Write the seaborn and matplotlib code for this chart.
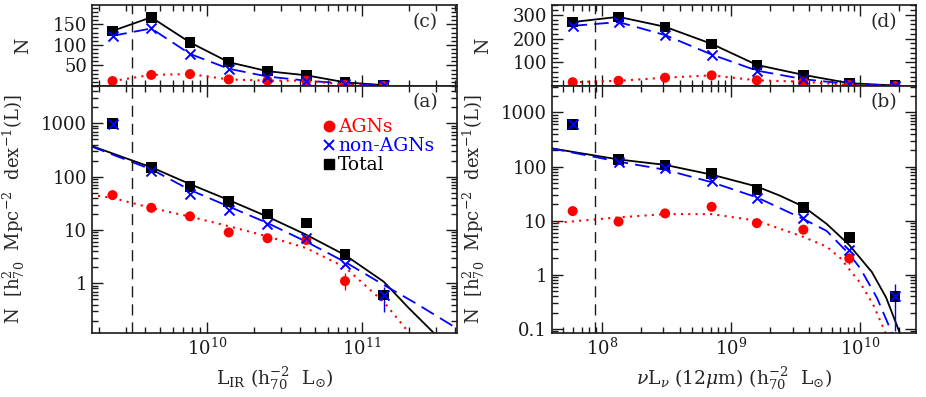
import numpy as np
import matplotlib
matplotlib.use("Agg")
import matplotlib.pyplot as plt
import seaborn as sns
from matplotlib.lines import Line2D
from matplotlib.ticker import FuncFormatter, LogLocator, MultipleLocator, NullFormatter

# ---- data ----
# left column: L_IR bins (log10 L)
bins_ir = [9.39, 9.64, 9.89, 10.14, 10.39, 10.64, 10.89, 11.14]
lf_agn_ir = [45, 26, 18, 9, 7, 6.5, 1.1, np.nan]
lf_non_ir = [950, 125, 47, 24, 13, 7, 2.3, 0.6]
lf_tot_ir = [1000, 150, 65, 34, 20, 13.5, 3.5, 0.6]
n_agn_ir = [12, 27, 29, 16, 13, 13, 3, 0]
n_non_ir = [122, 140, 78, 42, 23, 13, 6, 2]
n_tot_ir = [134, 167, 106, 58, 36, 26, 9, 2]

# fitted curves (log10 L, log10 N)
fit_tot_ir_x = [9.25, 9.645, 9.89, 10.14, 10.39, 10.64, 10.89, 11.14, 11.30, 11.47]
fit_tot_ir_y = [2.58, 2.17, 1.86, 1.56, 1.25, 0.91, 0.53, 0.03, -0.46, -0.95]
fit_non_ir_x = [9.25, 9.645, 9.89, 10.14, 10.39, 10.64, 10.89, 11.14, 11.35, 11.62]
fit_non_ir_y = [2.57, 2.13, 1.75, 1.44, 1.13, 0.78, 0.40, -0.03, -0.38, -0.86]
fit_agn_ir_x = [9.25, 9.39, 9.645, 9.89, 10.14, 10.39, 10.64, 10.89, 11.14, 11.31]
fit_agn_ir_y = [1.66, 1.60, 1.41, 1.25, 1.07, 0.88, 0.66, 0.30, -0.35, -0.95]

# right column: 12 micron bins (log10 nuL_nu)
bins_12 = [7.775, 8.13, 8.49, 8.85, 9.2, 9.56, 9.915, 10.27]
lf_agn_12 = [15, 9.6, 13.6, 18, 9, 6.8, 2.0, np.nan]
lf_non_12 = [600, 121, 93, 55, 26, 11, 2.9, 0.4]
lf_tot_12 = [600, 135, 107, 75, 37.5, 17.6, 4.9, 0.4]
n_agn_12 = [16, 22, 35, 45, 24, 18, 4, 0]
n_non_12 = [254, 270, 215, 133, 65, 29, 8, 2]
n_tot_12 = [270, 292, 250, 178, 89, 47, 12, 2]

fit_tot_12_x = [7.6, 8.13, 8.49, 8.85, 9.2, 9.38, 9.56, 9.74, 9.915, 10.09, 10.2, 10.31]
fit_tot_12_y = [2.34, 2.13, 2.03, 1.85, 1.63, 1.46, 1.26, 0.94, 0.55, 0.05, -0.42, -1.1]
fit_non_12_x = [7.6, 8.13, 8.49, 8.85, 9.2, 9.56, 9.74, 9.915, 10.0, 10.13, 10.25]
fit_non_12_y = [2.34, 2.09, 1.94, 1.71, 1.43, 1.03, 0.81, 0.38, 0.12, -0.43, -1.1]
fit_agn_12_x = [7.6, 8.13, 8.49, 8.85, 9.2, 9.56, 9.74, 9.85, 9.915, 10.0, 10.1, 10.2]
fit_agn_12_y = [0.95, 1.06, 1.12, 1.12, 1.0, 0.70, 0.52, 0.30, 0.10, -0.15, -0.55, -1.1]

sns.set_theme(style="ticks")
plt.rcParams["font.family"] = ["DejaVu Serif"]
plt.rcParams["mathtext.fontset"] = "dejavuserif"
plt.rcParams["font.size"] = 13

RED, BLUE, BLACK = "#ff0000", "#0000ff", "#000000"
LABEL_FS = 13.5
TICK_FS = 13

fig = plt.figure(figsize=(9.26, 3.97), dpi=100)


def style_axes(ax):
    ax.tick_params(which="both", direction="in", top=True, right=True,
                   labelsize=TICK_FS, colors="k", width=1)
    ax.tick_params(which="major", length=8)
    ax.tick_params(which="minor", length=4)
    for s in ax.spines.values():
        s.set_linewidth(1.2)
        s.set_color("k")


def draw_points(ax, x, tot, non, agn, lines=True):
    if lines:
        sns.lineplot(x=x, y=tot, ax=ax, color=BLACK, lw=1.3, estimator=None, sort=False)
        sns.lineplot(x=x, y=non, ax=ax, color=BLUE, lw=1.3, estimator=None, sort=False)
        ax.lines[-1].set_dashes([8, 4])
        sns.lineplot(x=x, y=agn, ax=ax, color=RED, lw=1.5, estimator=None, sort=False)
        ax.lines[-1].set_dashes([1, 2.5])
    sns.scatterplot(x=x, y=tot, ax=ax, marker="s", s=58, color=BLACK,
                    edgecolor="none", zorder=3)
    sns.scatterplot(x=x, y=agn, ax=ax, marker="o", s=52, color=RED,
                    edgecolor="none", zorder=4)
    sns.scatterplot(x=x, y=non, ax=ax, marker="x", s=52, color=BLUE,
                    linewidth=1.4, zorder=5)


def draw_fit(ax, fx, fy, color, dashes=None, lw=1.3):
    sns.lineplot(x=10 ** np.array(fx), y=10 ** np.array(fy), ax=ax, color=color,
                 lw=lw, estimator=None, sort=False)
    if dashes is not None:
        ax.lines[-1].set_dashes(dashes)


columns = [
    dict(left=92, right=457, xlim=(1.81e9, 4.1e11), vline=3.28e9,
         bins=bins_ir, lf=(lf_tot_ir, lf_non_ir, lf_agn_ir),
         n=(n_tot_ir, n_non_ir, n_agn_ir),
         fits=((fit_tot_ir_x, fit_tot_ir_y), (fit_non_ir_x, fit_non_ir_y),
               (fit_agn_ir_x, fit_agn_ir_y)),
         ylim=(0.117, 5000), ntop=197, nticks=[50, 100, 150], nminor=10,
         top_tag="(c)", bot_tag="(a)",
         xlabel=r"L$_{\rm IR}$ (h$_{70}^{-2}$  L$_{\odot}$)",
         errs=[(10.89, 1.1, 0.75, 1.55, RED), (11.14, 0.6, 0.29, 0.86, BLUE)],
         legend=True),
    dict(left=551.7, right=916, xlim=(4.1e7, 2.7e10), vline=8.8e7,
         bins=bins_12, lf=(lf_tot_12, lf_non_12, lf_agn_12),
         n=(n_tot_12, n_non_12, n_agn_12),
         fits=((fit_tot_12_x, fit_tot_12_y), (fit_non_12_x, fit_non_12_y),
               (fit_agn_12_x, fit_agn_12_y)),
         ylim=(0.084, 3070), ntop=342, nticks=[100, 200, 300], nminor=20,
         top_tag="(d)", bot_tag="(b)",
         xlabel=r"$\nu$L$_{\nu}$ (12$\mu$m) (h$_{70}^{-2}$  L$_{\odot}$)",
         errs=[(9.915, 2.0, 1.6, 2.5, RED), (10.27, 0.4, 0.093, 0.68, BLUE)],
         legend=False),
]

W, H = 926, 397
for col in columns:
    l = col["left"] / W
    w = (col["right"] - col["left"]) / W
    ax_top = fig.add_axes([l, 1 - 86 / H, w, 81 / H])
    ax_bot = fig.add_axes([l, 1 - 333 / H, w, 247 / H])
    x = 10 ** np.array(col["bins"])

    # top: raw counts per bin
    ax_top.set_xscale("log")
    draw_points(ax_top, x, *col["n"])
    ax_top.set_xlim(*col["xlim"])
    ax_top.set_ylim(0, col["ntop"])
    ax_top.set_yticks(col["nticks"])
    ax_top.yaxis.set_minor_locator(MultipleLocator(col["nminor"]))
    ax_top.xaxis.set_major_locator(LogLocator(base=10))
    ax_top.xaxis.set_minor_locator(LogLocator(base=10, subs=np.arange(2, 10)))
    ax_top.xaxis.set_major_formatter(NullFormatter())
    ax_top.xaxis.set_minor_formatter(NullFormatter())
    ax_top.axvline(col["vline"], color="k", lw=1.0, dashes=[8, 5])
    ax_top.set_xlabel("")
    ax_top.set_ylabel("N", fontsize=LABEL_FS)
    ax_top.yaxis.set_label_coords(-0.164, 0.5)
    ax_top.text(0.948, 0.90, col["top_tag"], transform=ax_top.transAxes,
                ha="right", va="top", fontsize=13.5)
    style_axes(ax_top)

    # bottom: luminosity function
    ax_bot.set_xscale("log")
    ax_bot.set_yscale("log")
    for (fx, fy), c, d, lw in zip(col["fits"], [BLACK, BLUE, RED],
                                  [None, [8, 4], [1, 2.5]], [1.3, 1.3, 1.5]):
        draw_fit(ax_bot, fx, fy, c, d, lw)
    for lx, v, lo, hi, c in col["errs"]:
        ax_bot.errorbar([10 ** lx], [v], yerr=[[v - lo], [hi - v]], fmt="none",
                        ecolor=c, elinewidth=1.0, capsize=0, zorder=2)
    draw_points(ax_bot, x, *col["lf"], lines=False)
    ax_bot.axvline(col["vline"], color="k", lw=1.0, dashes=[8, 5])
    ax_bot.set_xlim(*col["xlim"])
    ax_bot.set_ylim(*col["ylim"])
    ax_bot.xaxis.set_major_locator(LogLocator(base=10))
    ax_bot.xaxis.set_minor_locator(LogLocator(base=10, subs=np.arange(2, 10)))
    ax_bot.xaxis.set_minor_formatter(NullFormatter())
    ax_bot.yaxis.set_major_locator(LogLocator(base=10))
    ax_bot.yaxis.set_minor_locator(LogLocator(base=10, subs=np.arange(2, 10)))
    ax_bot.yaxis.set_major_formatter(FuncFormatter(lambda v, _: f"{v:g}"))
    ax_bot.yaxis.set_minor_formatter(NullFormatter())
    ax_bot.set_xlabel(col["xlabel"], fontsize=LABEL_FS, labelpad=5)
    ax_bot.set_ylabel(r"N  [h$^{2}_{70}$  Mpc$^{-2}$  dex$^{-1}$(L)]", fontsize=13)
    ax_bot.yaxis.set_label_coords(-0.178, 0.5)
    ax_bot.text(0.948, 0.97, col["bot_tag"], transform=ax_bot.transAxes,
                ha="right", va="top", fontsize=13.5)
    style_axes(ax_bot)

    if col["legend"]:
        handles = [
            Line2D([], [], ls="none", marker="o", color=RED, markersize=7.5),
            Line2D([], [], ls="none", marker="x", color=BLUE, markersize=7.5, mew=1.4),
            Line2D([], [], ls="none", marker="s", color=BLACK, markersize=7),
        ]
        ax_bot.legend(handles, ["AGNs", "non-AGNs", "Total"], loc="upper left",
                      bbox_to_anchor=(0.615, 0.9), frameon=False, fontsize=13.5,
                      handlelength=0.55, handletextpad=0.2, labelspacing=0.05,
                      borderaxespad=0, labelcolor=[RED, BLUE, BLACK])

fig.savefig("out.png", dpi=100)
